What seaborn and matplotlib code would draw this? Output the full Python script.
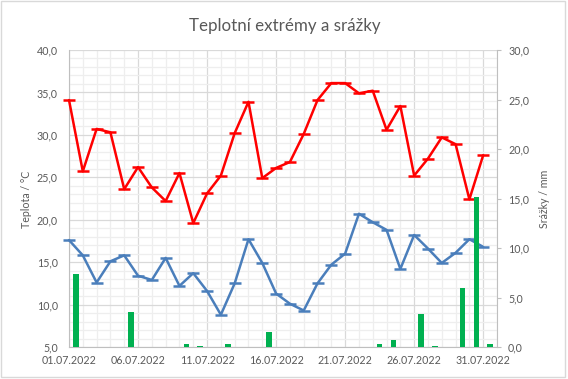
import numpy as np
import pandas as pd
import matplotlib
matplotlib.use("Agg")
import matplotlib.pyplot as plt
from matplotlib.ticker import MultipleLocator, FuncFormatter
from matplotlib.patches import Rectangle
import seaborn as sns

# ---- data ----
dates = ["01.07.2022", "02.07.2022", "03.07.2022", "04.07.2022", "05.07.2022",
         "06.07.2022", "07.07.2022", "08.07.2022", "09.07.2022", "10.07.2022",
         "11.07.2022", "12.07.2022", "13.07.2022", "14.07.2022", "15.07.2022",
         "16.07.2022", "17.07.2022", "18.07.2022", "19.07.2022", "20.07.2022",
         "21.07.2022", "22.07.2022", "23.07.2022", "24.07.2022", "25.07.2022",
         "26.07.2022", "27.07.2022", "28.07.2022", "29.07.2022", "30.07.2022",
         "31.07.2022"]
tmax = [34.1, 25.7, 30.7, 30.3, 23.6, 26.2, 23.8, 22.2, 25.5, 19.6,
        23.1, 25.2, 30.2, 33.9, 24.9, 26.1, 26.8, 30.1, 34.1, 36.1,
        36.1, 34.9, 35.2, 30.6, 33.4, 25.2, 27.2, 29.7, 28.9, 22.4, 27.6]
tmin = [17.6, 15.8, 12.6, 15.1, 15.8, 13.4, 12.9, 15.5, 12.2, 13.7,
        11.6, 8.8, 12.5, 17.7, 14.9, 11.3, 10.1, 9.3, 12.5, 14.7,
        16.0, 20.7, 19.7, 18.8, 14.2, 18.2, 16.6, 14.9, 16.1, 17.7, 16.8]
precip = [7.4, 0, 0, 0, 3.5, 0, 0, 0, 0.3, 0.1,
          0, 0.3, 0, 0, 1.5, 0, 0, 0, 0, 0,
          0, 0, 0.3, 0.7, 0, 3.3, 0.1, 0, 6.0, 15.2, 0.3]

title = "Teplotní extrémy a srážky"
ylabel_left = "Teplota / °C"
ylabel_right = "Srážky / mm"

# ---- style ----
sns.set_style("white")
plt.rcParams["font.family"] = ["Lato", "DejaVu Sans"]
TXT = "#595959"
AXC = "#BFBFBF"
RED = "#FF0000"
BLUE = "#4A7EBB"
GREEN = "#00B050"

df = pd.DataFrame({"day": np.arange(len(dates)), "tmax": tmax,
                   "tmin": tmin, "precip": precip})

W, H = 568, 379
fig = plt.figure(figsize=(W / 100, H / 100), dpi=100)
ax = fig.add_axes([69 / W, 32 / H, 428 / W, 297 / H])
ax2 = ax.twinx()

sns.lineplot(data=df, x="day", y="tmax", ax=ax, color=RED, linewidth=1.8,
             marker="_", markersize=9, markeredgewidth=1.8, markeredgecolor=RED,
             zorder=3, clip_on=False)
sns.lineplot(data=df, x="day", y="tmin", ax=ax, color=BLUE, linewidth=1.8,
             marker="_", markersize=9, markeredgewidth=1.8, markeredgecolor=BLUE,
             zorder=3, clip_on=False)
sns.barplot(x=df["day"] + 0.5, y=df["precip"], ax=ax2, native_scale=True,
            color=GREEN, saturation=1, width=0.4, errorbar=None, linewidth=0)

ax.set_xlim(0, 31)
ax.set_ylim(5, 40)
ax2.set_ylim(0, 30)

fmt = FuncFormatter(lambda v, p: f"{v:.1f}".replace(".", ","))
ax.set_xticks(df["day"][::5])
ax.set_xticklabels(dates[::5])
ax.xaxis.set_minor_locator(MultipleLocator(1))
ax.yaxis.set_major_locator(MultipleLocator(5))
ax.yaxis.set_minor_locator(MultipleLocator(1))
ax.yaxis.set_major_formatter(fmt)
ax2.yaxis.set_major_locator(MultipleLocator(5))
ax2.yaxis.set_major_formatter(fmt)

ax.set_axisbelow(True)
ax.grid(which="major", color="#D9D9D9", linewidth=0.9)
ax.grid(which="minor", color="#EEEEEE", linewidth=0.9)
ax2.grid(False)

ax.tick_params(axis="both", which="both", length=0, labelsize=7.7, labelcolor=TXT)
ax.tick_params(axis="x", pad=6)
ax.tick_params(axis="y", pad=8)
ax2.tick_params(axis="y", which="major", length=3, color=AXC, width=0.8,
                labelsize=7.7, labelcolor=TXT, pad=5)
ax2.tick_params(axis="x", length=0)

for s in ["top", "right"]:
    ax.spines[s].set_visible(False)
for s in ["left", "bottom"]:
    ax.spines[s].set_color(AXC)
for s in ["top", "left", "bottom"]:
    ax2.spines[s].set_visible(False)
ax2.spines["right"].set_color(AXC)

ax.set_xlabel("")
ax.set_ylabel("")
ax2.set_xlabel("")
ax2.set_ylabel("")

fig.text(27 / W, 1 - 199 / H, ylabel_left, rotation=90, ha="center", va="center",
         fontsize=7.7, color=TXT)
fig.text(545 / W, 1 - 199 / H, ylabel_right, rotation=90, ha="center", va="center",
         fontsize=7.7, color=TXT)
fig.text(284.5 / W, 1 - 31.5 / H, title, ha="center", va="baseline",
         fontsize=12.2, color=TXT)

fig.patches.append(Rectangle((1 / W, 2 / H), 564 / W, 376 / H, transform=fig.transFigure,
                             fill=False, edgecolor="#D9D9D9", linewidth=1))

fig.savefig("out.png", dpi=100)
